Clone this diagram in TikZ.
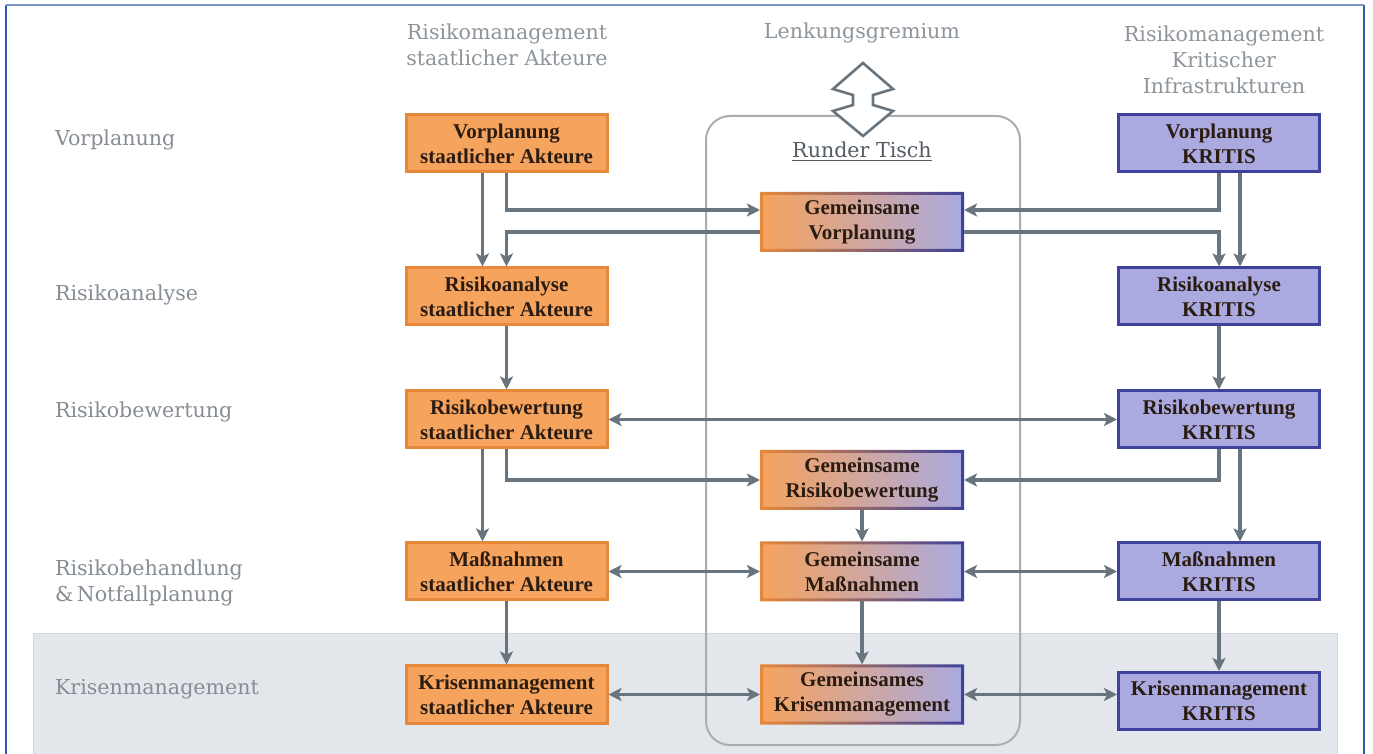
\documentclass[tikz,border=0pt]{standalone}
\usepackage{fontspec}
\setmainfont{DejaVu Serif}
\newfontfamily\boxfont{Liberation Serif}
\usetikzlibrary{arrows.meta}
\definecolor{ofill}{HTML}{F6A35E}
\definecolor{oborder}{HTML}{E6883A}
\definecolor{bfill}{HTML}{AAAAE0}
\definecolor{bborder}{HTML}{3E429C}
\definecolor{acol}{HTML}{69757E}
\definecolor{hcol}{HTML}{8E959B}
\definecolor{lcol}{HTML}{868D94}
\definecolor{rcol}{HTML}{555D64}
\definecolor{rrect}{HTML}{A9AEB3}
\definecolor{band}{HTML}{E3E7EB}
\definecolor{bandline}{HTML}{D3D8DD}
\definecolor{frame}{HTML}{2E5BA9}
\definecolor{frametop}{HTML}{7A94C8}
\definecolor{tcol}{HTML}{2B1C12}
\newcommand\mybtext{\boxfont\bfseries\fontsize{10.5}{12.5}\selectfont}
\newcommand\myhtext{\fontsize{10.3}{13}\selectfont}
\begin{document}
\begin{tikzpicture}[x=0.5pt,y=-0.5pt,
  obox/.style={draw=oborder, fill=ofill, line width=1.5pt, minimum width=100.5pt, minimum height=28.5pt, inner sep=0pt, align=center, font=\mybtext, text=tcol},
  bbox/.style={obox, draw=bborder, fill=bfill},
  gbox/.style={obox, draw=none, left color=ofill, right color=bfill},
  arr/.style={draw=acol, line width=1.6pt, -{Stealth[length=6.5pt,width=6.5pt,inset=1.5pt]}},
  darr/.style={arr, {Stealth[length=6.5pt,width=6.5pt,inset=1.5pt]}-{Stealth[length=6.5pt,width=6.5pt,inset=1.5pt]}},
  hdr/.style={font=\myhtext, text=hcol, align=center},
  lbl/.style={font=\myhtext, text=lcol, align=left, anchor=west}]
\useasboundingbox (0,0) rectangle (1373,754);
\fill[white] (0,0) rectangle (1373,754);
% frame
\draw[frame, line width=1pt] (6,5) -- (6,754);
\draw[frame, line width=0.8pt] (1364,5) -- (1364,754);
\draw[frametop, line width=1pt] (6,5) -- (1364,5);
% gray band
\draw[bandline, fill=band, line width=0.5pt] (33,754) -- (33,634) -- (1337,634) -- (1337,754);
% round table
\draw[rrect, line width=1pt, rounded corners=12pt] (706,116) rectangle (1020,745);
% headers
\node[hdr] (h1) at (507,45) {Risikomanagement\\staatlicher Akteure};
\node[hdr] (h2) at (862,33) {Lenkungsgremium};
\node[hdr] (h3) at (1224,60) {Risikomanagement\\Kritischer\\Infrastrukturen};
\node[font=\myhtext, text=rcol] (rt) at (862,152) {\underline{Runder Tisch}};
% double hollow arrow
\draw[acol, fill=white, line width=1.3pt, line join=miter]
  (863,63) -- (893,89) -- (873,95) -- (873,105) -- (893,111) -- (863,136)
  -- (833,111) -- (853,105) -- (853,95) -- (833,89) -- cycle;
% row labels
\node[lbl] (l1) at (48,140) {Vorplanung};
\node[lbl] (l2) at (48,295) {Risikoanalyse};
\node[lbl] (l3) at (48,412) {Risikobewertung};
\node[lbl] (l4) at (48,583) {Risikobehandlung\\\&\,Notfallplanung};
\node[lbl] (l5) at (48,689) {Krisenmanagement};
% left column
\node[obox] (VS) at (506.5,143.5) {Vorplanung\\staatlicher Akteure};
\node[obox] (RS) at (506.5,296.5) {Risikoanalyse\\staatlicher Akteure};
\node[obox] (BS) at (506.5,419.5) {Risikobewertung\\staatlicher Akteure};
\node[obox] (MS) at (506.5,571.5) {Maßnahmen\\staatlicher Akteure};
\node[obox] (KS) at (506.5,694.5) {Krisenmanagement\\staatlicher Akteure};
% right column
\node[bbox] (VK) at (1219,143.5) {Vorplanung\\KRITIS};
\node[bbox] (RK) at (1219,296.5) {Risikoanalyse\\KRITIS};
\node[bbox] (BK) at (1219,419.5) {Risikobewertung\\KRITIS};
\node[bbox] (MK) at (1219,571.5) {Maßnahmen\\KRITIS};
\node[bbox] (KK) at (1219,701) {Krisenmanagement\\KRITIS};
% middle column
\node[gbox] (GV) at (862,222) {Gemeinsame\\Vorplanung};
\node[gbox] (GR) at (862,480) {Gemeinsame\\Risikobewertung};
\node[gbox] (GM) at (862,571.5) {Gemeinsame\\Maßnahmen};
\node[gbox] (GK) at (862,694.5) {Gemeinsames\\Krisenmanagement};
\foreach \n in {GV,GR,GM,GK}{
  \shade[left color=oborder, right color=bborder, even odd rule]
    (\n.north west) rectangle (\n.south east)
    ([xshift=1.5pt,yshift=-1.5pt]\n.north west) rectangle ([xshift=-1.5pt,yshift=1.5pt]\n.south east);
}
% connectors
\draw[arr] ([xshift=-12pt]VS.south) -- ([xshift=-12pt]RS.north);
\draw[arr] (VS.south) |- ([yshift=6pt]GV.west);
\draw[arr] ([yshift=-5pt]GV.west) -| (RS.north);
\draw[arr] (VK.south) |- ([yshift=6pt]GV.east);
\draw[arr] ([yshift=-5pt]GV.east) -| (RK.north);
\draw[arr] ([xshift=10.5pt]VK.south) -- ([xshift=10.5pt]RK.north);
\draw[arr] (RS) -- (BS);
\draw[arr] (RK) -- (BK);
\draw[darr] (BS.east) -- (BK.west);
\draw[arr] (BS.south) |- (GR.west);
\draw[arr] ([xshift=-12pt]BS.south) -- ([xshift=-12pt]MS.north);
\draw[arr] (BK.south) |- (GR.east);
\draw[arr] ([xshift=10.5pt]BK.south) -- ([xshift=10.5pt]MK.north);
\draw[arr] (GR) -- (GM);
\draw[darr] (MS) -- (GM);
\draw[darr] (GM) -- (MK);
\draw[arr] (MS) -- (KS);
\draw[arr] (GM) -- (GK);
\draw[arr] (MK) -- (KK);
\draw[darr] (KS) -- (GK);
\draw[darr] (GK.east) -- (GK.east -| KK.west);
\end{tikzpicture}
\end{document}
